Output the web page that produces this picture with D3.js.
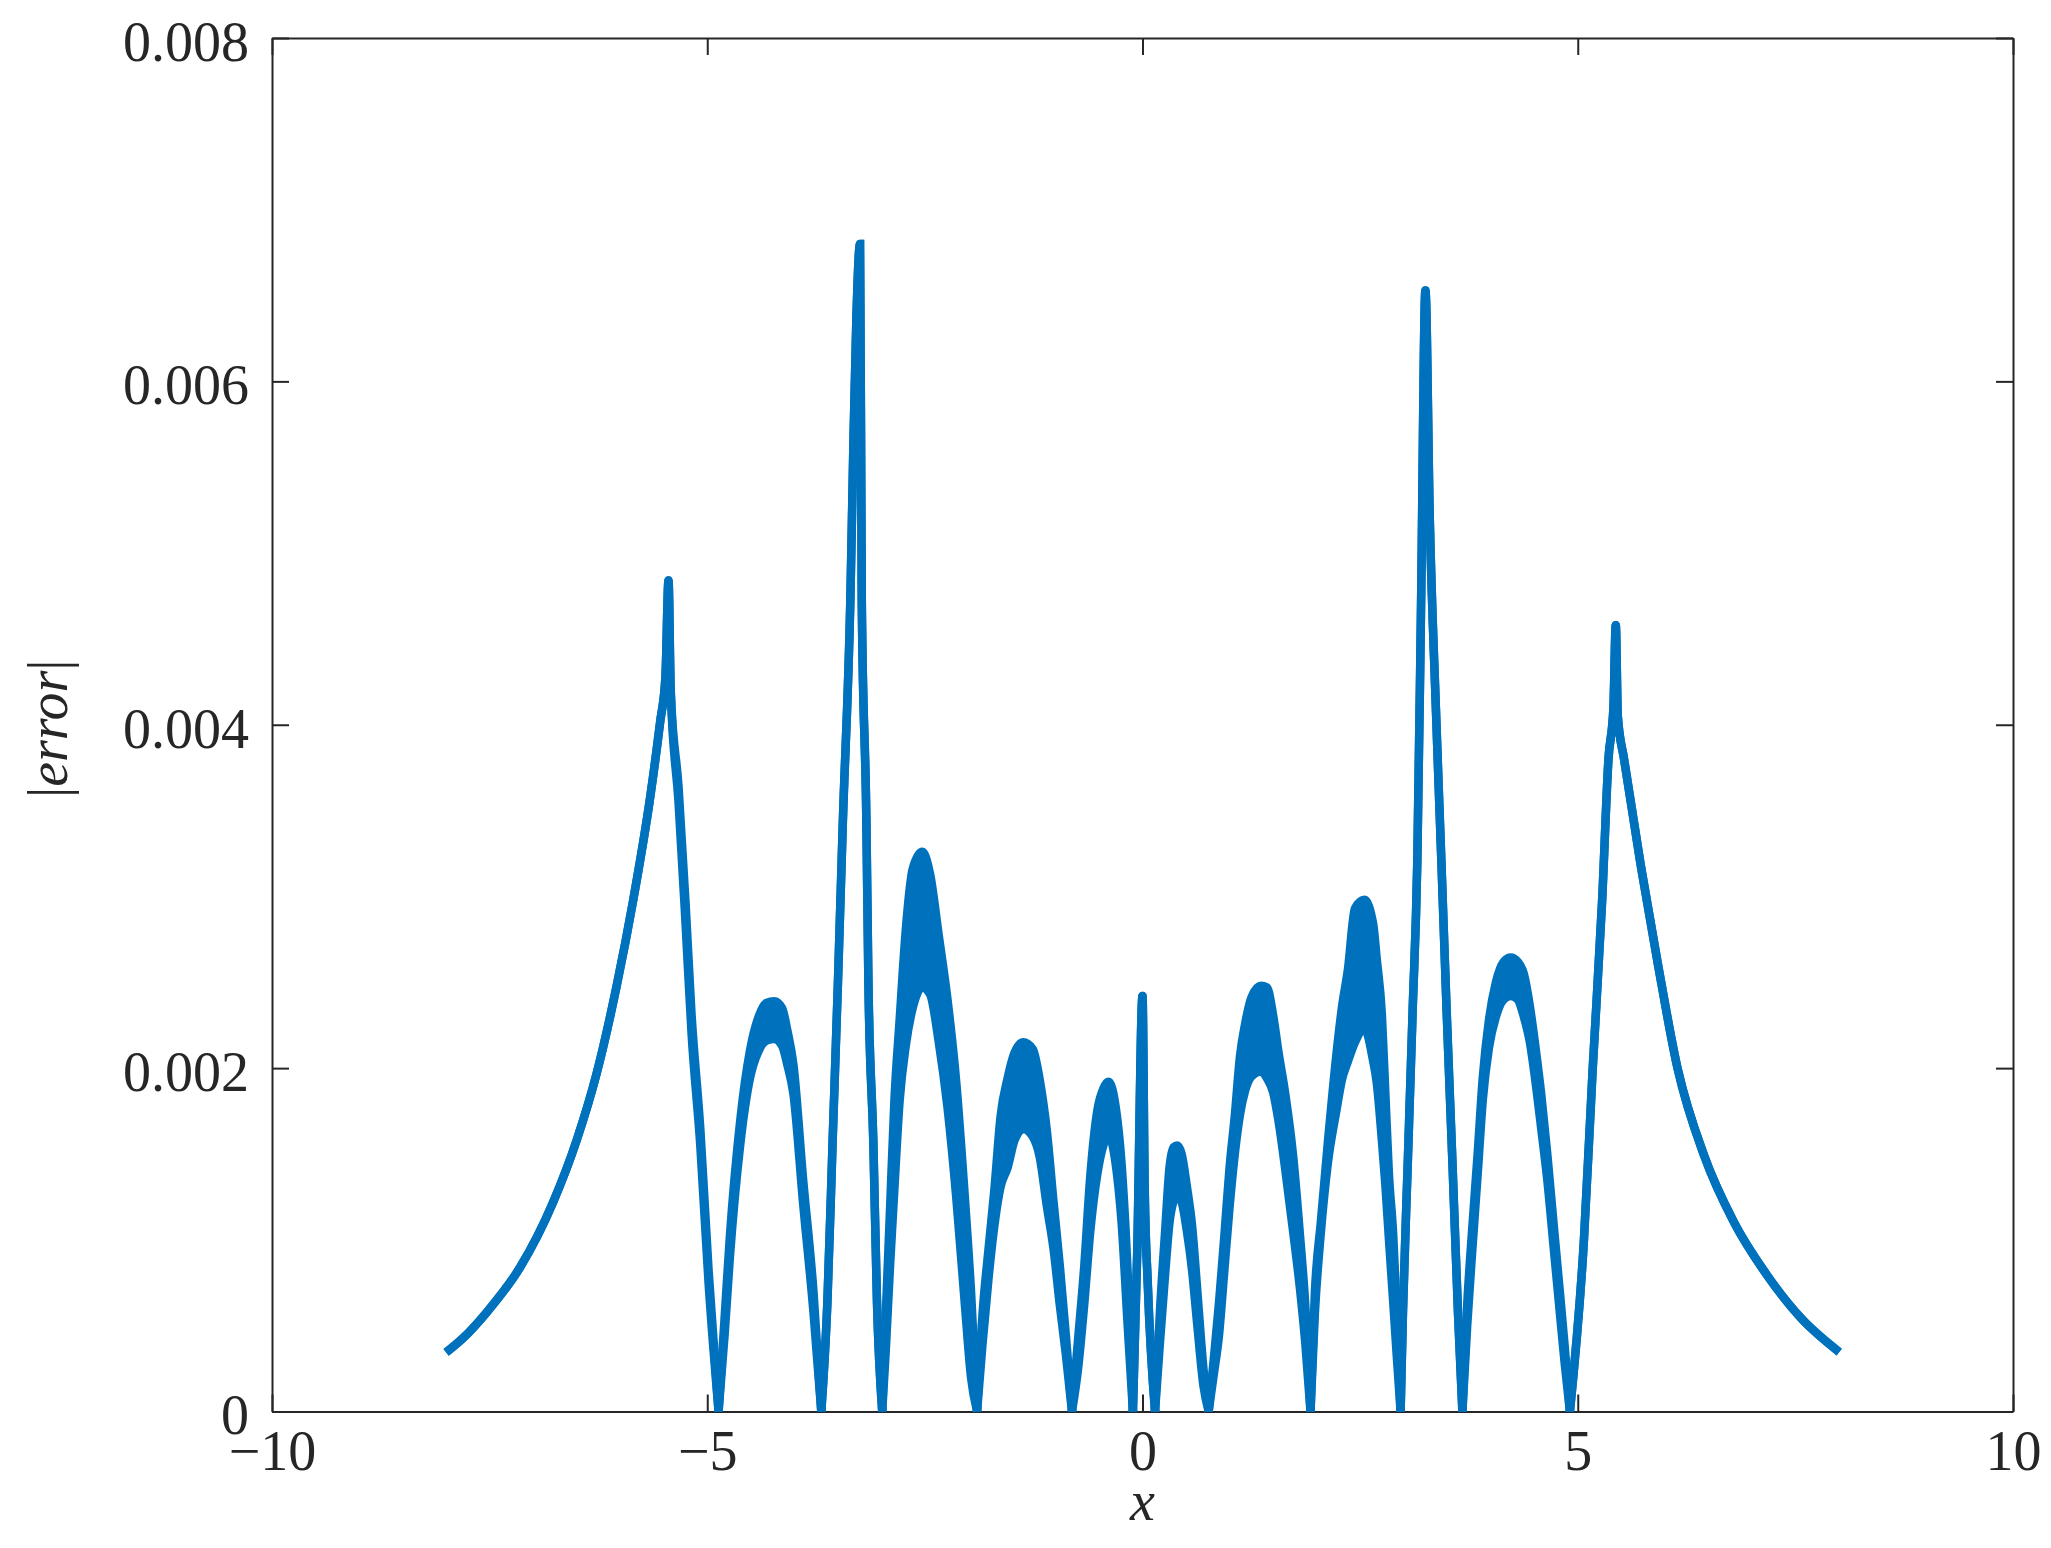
<!DOCTYPE html>
<html><head><meta charset="utf-8">
<script src="https://cdn.jsdelivr.net/npm/d3@7"></script>
<style>body{margin:0;background:#fff}</style>
</head><body>
<svg id="chart" width="2051" height="1548"></svg>
<script>
// ---- data ----
const xValues = [
  -8.00, -7.80, -7.53, -7.15, -6.77, -6.50, -6.27, -6.04, -5.85, -5.655, -5.54, -5.48, -5.445, -5.42, -5.33, -5.25, -5.18, -5.08, -4.985, -4.87,
  -4.80, -4.74, -4.62, -4.51, -4.41, -4.32, -4.23, -4.14, -4.08, -4.01, -3.90, -3.78, -3.69,
  -3.62, -3.56, -3.498, -3.442, -3.356, -3.32, -3.287, -3.245, -3.225, -3.172, -3.149, -3.092, -3.05, -2.99,
  -2.95, -2.90, -2.85, -2.79, -2.72, -2.64, -2.53, -2.44, -2.34, -2.24, -2.14, -2.04, -1.97, -1.90,
  -1.84, -1.77, -1.70, -1.63, -1.55, -1.47, -1.37, -1.26, -1.18, -1.10, -1.02, -0.95, -0.88, -0.81,
  -0.74, -0.67, -0.60, -0.52, -0.45, -0.39, -0.31, -0.24, -0.17, -0.11,
  -0.06, 0.00, 0.025, 0.06, 0.144,
  0.20, 0.26, 0.31, 0.36, 0.40, 0.45, 0.51, 0.57, 0.63, 0.70, 0.76,
  0.82, 0.88, 0.94, 1.00, 1.06, 1.12, 1.18, 1.25, 1.36, 1.43, 1.50, 1.56, 1.64, 1.73, 1.81, 1.87, 1.93,
  1.98, 2.05, 2.13, 2.23, 2.29, 2.36, 2.44, 2.55, 2.65, 2.69, 2.75, 2.79, 2.83, 2.88, 2.92, 2.965,
  2.992, 3.048, 3.103, 3.157, 3.20, 3.25, 3.30, 3.37, 3.433, 3.494, 3.56, 3.624, 3.675,
  3.73, 3.79, 3.85, 3.91, 3.98, 4.06, 4.15, 4.23, 4.31, 4.38, 4.45, 4.52, 4.58, 4.65, 4.73, 4.79, 4.85, 4.91,
  5.07, 5.17, 5.28, 5.353, 5.41, 5.437, 5.46, 5.532, 5.724, 5.916, 6.146, 6.452, 6.797, 7.18, 7.563, 8.004
];
// upper envelope of |error|
const upperValues = [
  0.344e-3, 0.43e-3, 0.58e-3, 0.84e-3, 1.22e-3, 1.58e-3, 1.97e-3, 2.48e-3, 2.98e-3, 3.58e-3, 4.02e-3, 4.28e-3, 4.84e-3, 4.20e-3, 3.64e-3, 2.97e-3, 2.31e-3, 1.65e-3, 0.825e-3, 0,
  0.55e-3, 1.02e-3, 1.70e-3, 2.10e-3, 2.30e-3, 2.38e-3, 2.39e-3, 2.35e-3, 2.22e-3, 2.02e-3, 1.36e-3, 0.70e-3, 0,
  0.635e-3, 1.57e-3, 2.51e-3, 3.44e-3, 4.73e-3, 5.66e-3, 6.36e-3, 6.80e-3, 4.73e-3, 3.44e-3, 2.51e-3, 1.57e-3, 0.635e-3, 0,
  0.55e-3, 1.18e-3, 1.81e-3, 2.28e-3, 2.80e-3, 3.16e-3, 3.26e-3, 3.13e-3, 2.77e-3, 2.40e-3, 1.92e-3, 1.24e-3, 0.70e-3, 0,
  0.55e-3, 0.94e-3, 1.30e-3, 1.72e-3, 1.94e-3, 2.09e-3, 2.15e-3, 2.11e-3, 1.93e-3, 1.64e-3, 1.21e-3, 0.85e-3, 0.44e-3, 0,
  0.42e-3, 0.84e-3, 1.37e-3, 1.75e-3, 1.88e-3, 1.92e-3, 1.78e-3, 1.44e-3, 0.80e-3, 0,
  0.94e-3, 2.42e-3, 1.30e-3, 0.75e-3, 0,
  0.58e-3, 1.05e-3, 1.42e-3, 1.54e-3, 1.55e-3, 1.50e-3, 1.31e-3, 1.08e-3, 0.70e-3, 0.25e-3, 0,
  0.31e-3, 0.64e-3, 1.02e-3, 1.42e-3, 1.72e-3, 2.07e-3, 2.26e-3, 2.41e-3, 2.48e-3, 2.47e-3, 2.31e-3, 2.10e-3, 1.85e-3, 1.49e-3, 1.02e-3, 0.62e-3, 0,
  0.69e-3, 1.11e-3, 1.57e-3, 2.09e-3, 2.35e-3, 2.575e-3, 2.93e-3, 2.98e-3, 2.84e-3, 2.64e-3, 2.31e-3, 1.85e-3, 1.39e-3, 1.03e-3, 0.58e-3, 0,
  0.58e-3, 1.457e-3, 2.33e-3, 3.21e-3, 4.70e-3, 6.53e-3, 5.20e-3, 4.10e-3, 3.21e-3, 2.33e-3, 1.457e-3, 0.58e-3, 0,
  0.62e-3, 1.08e-3, 1.50e-3, 1.95e-3, 2.28e-3, 2.50e-3, 2.62e-3, 2.645e-3, 2.62e-3, 2.55e-3, 2.36e-3, 2.10e-3, 1.85e-3, 1.50e-3, 1.05e-3, 0.72e-3, 0.38e-3, 0,
  0.99e-3, 1.98e-3, 2.975e-3, 3.80e-3, 4.10e-3, 4.58e-3, 4.05e-3, 3.80e-3, 3.18e-3, 2.62e-3, 2.00e-3, 1.49e-3, 1.10e-3, 0.79e-3, 0.545e-3, 0.346e-3
];
// lower envelope of the fast oscillation (band)
const lowerValues = [
  0.344e-3, 0.43e-3, 0.58e-3, 0.84e-3, 1.22e-3, 1.58e-3, 1.97e-3, 2.48e-3, 2.98e-3, 3.58e-3, 4.02e-3, 4.28e-3, 4.84e-3, 4.20e-3, 3.55e-3, 2.85e-3, 2.20e-3, 1.55e-3, 0.75e-3, 0,
  0.45e-3, 0.90e-3, 1.56e-3, 1.94e-3, 2.10e-3, 2.16e-3, 2.17e-3, 2.13e-3, 2.02e-3, 1.85e-3, 1.22e-3, 0.58e-3, 0,
  0.635e-3, 1.57e-3, 2.51e-3, 3.44e-3, 4.73e-3, 5.66e-3, 6.36e-3, 6.80e-3, 4.73e-3, 3.44e-3, 2.51e-3, 1.57e-3, 0.635e-3, 0,
  0.35e-3, 0.85e-3, 1.30e-3, 1.81e-3, 2.13e-3, 2.35e-3, 2.47e-3, 2.43e-3, 2.15e-3, 1.77e-3, 1.25e-3, 0.62e-3, 0.20e-3, 0,
  0.38e-3, 0.77e-3, 1.09e-3, 1.31e-3, 1.42e-3, 1.58e-3, 1.645e-3, 1.60e-3, 1.48e-3, 1.20e-3, 0.94e-3, 0.62e-3, 0.33e-3, 0,
  0.25e-3, 0.62e-3, 1.05e-3, 1.38e-3, 1.55e-3, 1.61e-3, 1.45e-3, 1.10e-3, 0.50e-3, 0,
  0.94e-3, 2.42e-3, 1.30e-3, 0.75e-3, 0,
  0.40e-3, 0.80e-3, 1.10e-3, 1.23e-3, 1.26e-3, 1.22e-3, 1.05e-3, 0.82e-3, 0.50e-3, 0.15e-3, 0,
  0.22e-3, 0.45e-3, 0.82e-3, 1.19e-3, 1.50e-3, 1.73e-3, 1.87e-3, 1.95e-3, 1.98e-3, 1.94e-3, 1.86e-3, 1.70e-3, 1.41e-3, 1.05e-3, 0.71e-3, 0.40e-3, 0,
  0.57e-3, 1.05e-3, 1.45e-3, 1.76e-3, 1.93e-3, 2.04e-3, 2.15e-3, 2.23e-3, 2.04e-3, 1.92e-3, 1.58e-3, 1.32e-3, 1.01e-3, 0.64e-3, 0.33e-3, 0,
  0.58e-3, 1.457e-3, 2.33e-3, 3.21e-3, 4.70e-3, 6.53e-3, 5.20e-3, 4.10e-3, 3.21e-3, 2.33e-3, 1.457e-3, 0.58e-3, 0,
  0.50e-3, 0.95e-3, 1.38e-3, 1.82e-3, 2.12e-3, 2.30e-3, 2.40e-3, 2.42e-3, 2.40e-3, 2.30e-3, 2.15e-3, 1.90e-3, 1.65e-3, 1.35e-3, 0.92e-3, 0.60e-3, 0.28e-3, 0,
  0.99e-3, 1.98e-3, 2.975e-3, 3.80e-3, 4.10e-3, 4.58e-3, 4.05e-3, 3.80e-3, 3.18e-3, 2.62e-3, 2.00e-3, 1.49e-3, 1.10e-3, 0.79e-3, 0.545e-3, 0.346e-3
];
const xTicks = [-10, -5, 0, 5, 10];
const xTickLabels = ["\u221210", "\u22125", "0", "5", "10"];
const yTicks = [0, 0.002, 0.004, 0.006, 0.008];
const yTickLabels = ["0", "0.002", "0.004", "0.006", "0.008"];
const xLabel = "x";
const yLabelParts = ["|", "error", "|"];

// ---- drawing ----
const svg = d3.select("#chart");
const plotLeft = 272, plotRight = 2013, plotTop = 38, plotBottom = 1411.5;
const axisColor = "#262626", lineColor = "#0072BD";
const fontFam = "'Liberation Serif', 'Times New Roman', serif";
const fs = 56;

svg.append("rect").attr("width", 2051).attr("height", 1548).attr("fill", "#fff");

const x = d3.scaleLinear().domain([-10, 10]).range([plotLeft, plotRight]);
const y = d3.scaleLinear().domain([0, 0.008]).range([plotBottom, plotTop]);

const tickLen = 17;
function styleAxis(g, showLabels) {
  g.attr("font-size", null).attr("font-family", null);
  g.select(".domain").attr("stroke", axisColor).attr("stroke-width", 2);
  g.selectAll(".tick line").attr("stroke", axisColor).attr("stroke-width", 2);
  g.selectAll(".tick text")
    .attr("fill", axisColor)
    .style("font-family", fontFam)
    .style("font-size", fs + "px");
  if (!showLabels) g.selectAll(".tick text").remove();
}

const gx = svg.append("g").attr("transform", `translate(0,${plotBottom})`)
  .call(d3.axisBottom(x).tickValues(xTicks).tickSizeInner(-tickLen).tickSizeOuter(0).tickPadding(19)
    .tickFormat((d, i) => xTickLabels[i]));
styleAxis(gx, true);
gx.selectAll(".tick text").attr("dy", "0.71em");

const gxTop = svg.append("g").attr("transform", `translate(0,${plotTop})`)
  .call(d3.axisTop(x).tickValues(xTicks).tickSizeInner(-tickLen).tickSizeOuter(0));
styleAxis(gxTop, false);

const gy = svg.append("g").attr("transform", `translate(${plotLeft},0)`)
  .call(d3.axisLeft(y).tickValues(yTicks).tickSizeInner(-tickLen).tickSizeOuter(0).tickPadding(23)
    .tickFormat((d, i) => yTickLabels[i]));
styleAxis(gy, true);
gy.selectAll(".tick text").attr("dy", "0.40em");

const gyR = svg.append("g").attr("transform", `translate(${plotRight},0)`)
  .call(d3.axisRight(y).tickValues(yTicks).tickSizeInner(-tickLen).tickSizeOuter(0));
styleAxis(gyR, false);

// axis labels
svg.append("text")
  .attr("x", (plotLeft + plotRight) / 2).attr("y", 1520)
  .attr("text-anchor", "middle")
  .attr("fill", axisColor)
  .style("font-family", fontFam).style("font-size", fs + "px").style("font-style", "italic")
  .text(xLabel);

const yl = svg.append("text")
  .attr("transform", `translate(67,${(plotTop + plotBottom) / 2 + 4}) rotate(-90)`)
  .attr("text-anchor", "middle")
  .attr("fill", axisColor)
  .style("font-family", fontFam).style("font-size", fs + "px");
yLabelParts.forEach((t, i) => {
  yl.append("tspan").style("font-style", i === 1 ? "italic" : "normal").text(t);
});

// data: split into arches at the zeros, smooth each arch
const pts = xValues.map((v, i) => ({ x: v, u: upperValues[i], l: lowerValues[i] }));
const segments = [];
let cur = [];
pts.forEach(p => {
  cur.push(p);
  if (p.u === 0 && cur.length > 1) { segments.push(cur); cur = [p]; }
});
if (cur.length > 1) segments.push(cur);

const curve = d3.curveMonotoneX;
const dataG = svg.append("g");
segments.forEach(seg => {
  dataG.append("path").datum(seg)
    .attr("d", d3.area().curve(curve).x(d => x(d.x)).y0(d => y(d.l)).y1(d => y(d.u)))
    .attr("fill", lineColor);
  ["u", "l"].forEach(k => {
    dataG.append("path").datum(seg)
      .attr("d", d3.line().curve(curve).x(d => x(d.x)).y(d => y(d[k])))
      .attr("fill", "none")
      .attr("stroke", lineColor)
      .attr("stroke-width", 8.5)
      .attr("stroke-linejoin", "miter")
      .attr("stroke-miterlimit", 4)
      .attr("stroke-linecap", "butt");
  });
});
</script>
</body></html>
